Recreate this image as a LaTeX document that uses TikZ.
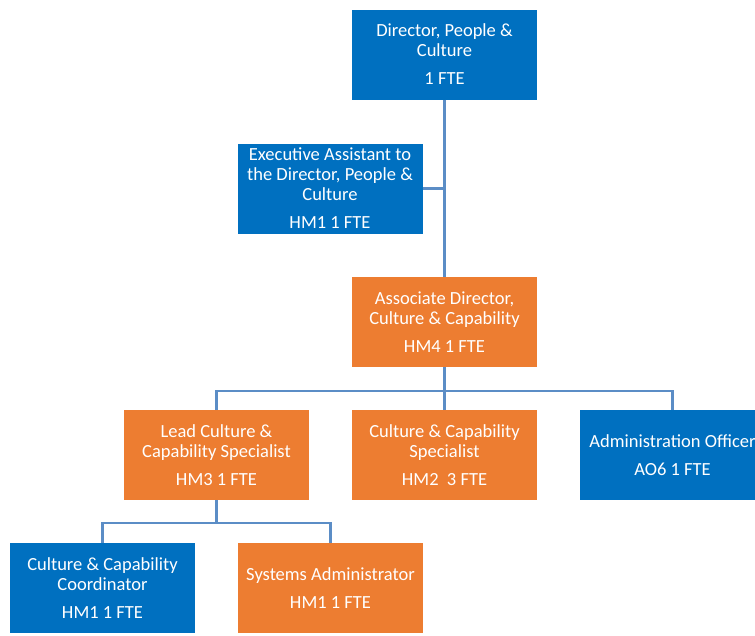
\documentclass[tikz,border=0pt]{standalone}
\usepackage{fontspec}
\setmainfont{Carlito}
\usepackage{xcolor}
\usepackage{tikz}
\usetikzlibrary{positioning}
\definecolor{roleblue}{RGB}{0,112,192}
\definecolor{roleorange}{RGB}{237,125,49}
\definecolor{linkblue}{RGB}{91,141,198}

\tikzset{
  role/.style={minimum width=185pt, minimum height=90pt, inner sep=2pt,
               align=center, text=white, font=\fontsize{18.5}{20}\selectfont},
  bluerole/.style={role, fill=roleblue},
  orangerole/.style={role, fill=roleorange},
  link/.style={draw=linkblue, line width=2.5pt}
}

\begin{document}
\begin{tikzpicture}[x=1pt, y=-1pt]
    \useasboundingbox (0,0) rectangle (755,635);

    % top
    \node[bluerole] (dir) at (444.5,54.5)
      {Director, People \&\\Culture\\[8pt]1 FTE};
    \node[bluerole] (exec) at (330,188.5)
      {Executive Assistant to\\the Director, People \&\\Culture\\[8pt]HM1 1 FTE};
    \node[orangerole] (assoc) at (444.5,322)
      {Associate Director,\\Culture \& Capability\\[8pt]HM4 1 FTE};

    % second row
    \node[orangerole] (lead) at (216.5,455)
      {Lead Culture \&\\Capability Specialist\\[8pt]HM3 1 FTE};
    \node[orangerole] (spec) at (444.5,455)
      {Culture \& Capability\\Specialist\\[8pt]HM2\ \ 3 FTE};
    \node[bluerole] (admin) at (672.5,455)
      {Administration Officer\\[8pt]AO6 1 FTE};

    % third row
    \node[bluerole] (coord) at (102.5,588)
      {Culture \& Capability\\Coordinator\\[8pt]HM1 1 FTE};
    \node[orangerole] (sysadm) at (330.5,588)
      {Systems Administrator\\[8pt]HM1 1 FTE};

    \coordinate (abar) at (444.5,391);
    \coordinate (lbar) at (216.5,523);

    % connectors
    \draw[link] (dir.south) -- (assoc.north);
    \draw[link] (exec.east) -- (exec.east -| dir.south);
    \draw[link] (assoc.south) -- (abar);
    \draw[link] (lead.north) |- (abar) -| (admin.north);
    \draw[link] (spec.north) -- (abar);
    \draw[link] (lead.south) -- (lbar);
    \draw[link] (coord.north) |- (lbar) -| (sysadm.north);
\end{tikzpicture}
\end{document}
